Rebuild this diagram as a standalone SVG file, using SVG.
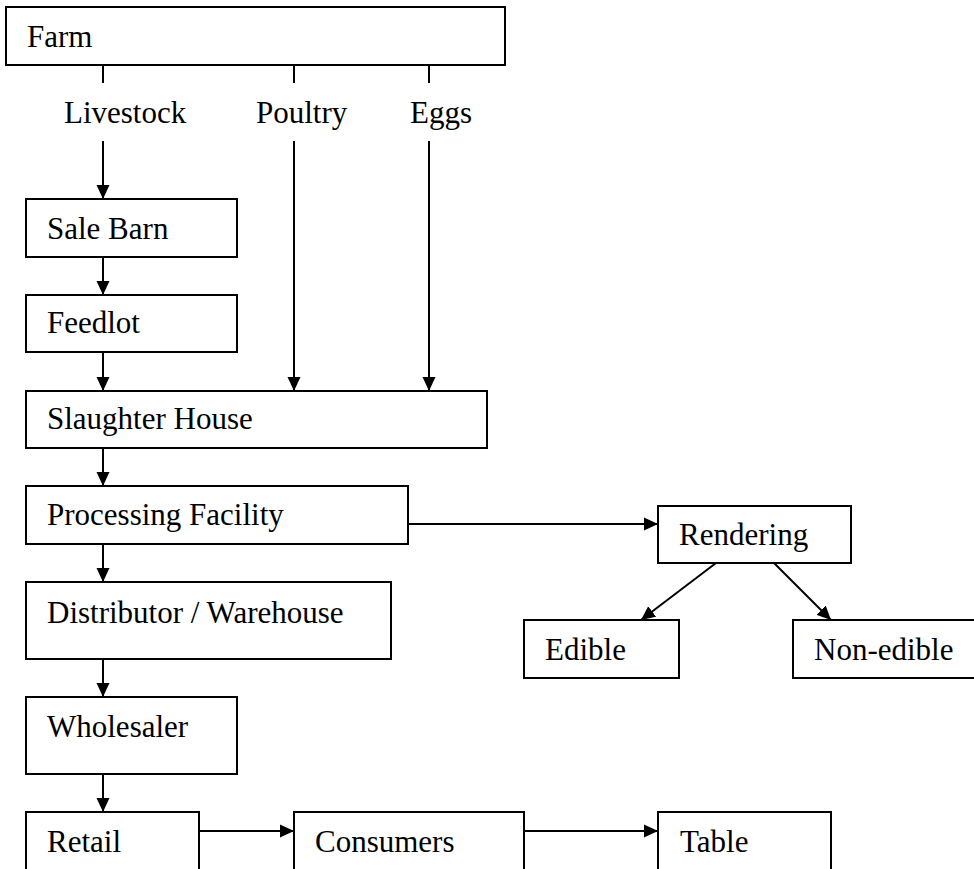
<svg xmlns="http://www.w3.org/2000/svg" width="974" height="869" viewBox="0 0 974 869">
<style>
.box{fill:#fff;stroke:#000;stroke-width:2}
.t{font-family:"Liberation Serif","Times New Roman",serif;font-size:31px;fill:#000}
.c{stroke:#000;stroke-width:2;fill:none}
.a{marker-end:url(#ah)}
</style>
<defs>
<marker id="ah" viewBox="0 0 14 14" refX="14" refY="7" markerWidth="14" markerHeight="14" markerUnits="userSpaceOnUse" orient="auto">
<path d="M0,0.5 L14,7 L0,13.5 Z" fill="#000"/>
</marker>
</defs>
<rect width="974" height="869" fill="#fff"/>
<g id="connectors">
<line class="c" x1="103" y1="65" x2="103" y2="83"/>
<line class="c" x1="294" y1="65" x2="294" y2="83"/>
<line class="c" x1="429" y1="65" x2="429" y2="83"/>
<line class="c a" x1="103" y1="141" x2="103" y2="199"/>
<line class="c a" x1="294" y1="141" x2="294" y2="391"/>
<line class="c a" x1="429" y1="141" x2="429" y2="391"/>
<line class="c a" x1="103" y1="257" x2="103" y2="295"/>
<line class="c a" x1="103" y1="352" x2="103" y2="391"/>
<line class="c a" x1="103" y1="448" x2="103" y2="486"/>
<line class="c a" x1="103" y1="544" x2="103" y2="582"/>
<line class="c a" x1="103" y1="659" x2="103" y2="697"/>
<line class="c a" x1="103" y1="774" x2="103" y2="812"/>
<line class="c a" x1="408" y1="524" x2="658" y2="524"/>
<line class="c a" x1="716" y1="563" x2="641" y2="620"/>
<line class="c a" x1="774" y1="563" x2="831" y2="620"/>
<line class="c a" x1="199" y1="831" x2="294" y2="831"/>
<line class="c a" x1="524" y1="831" x2="658" y2="831"/>
</g>
<g id="labels">
<text class="t" x="64" y="123">Livestock</text>
<text class="t" x="256" y="123">Poultry</text>
<text class="t" x="410" y="123">Eggs</text>
</g>
<g id="farm"><rect class="box" x="6" y="7" width="499" height="58"/><text class="t" x="27" y="47">Farm</text></g>
<g id="salebarn"><rect class="box" x="26" y="199" width="211" height="58"/><text class="t" x="47" y="239">Sale Barn</text></g>
<g id="feedlot"><rect class="box" x="26" y="295" width="211" height="57"/><text class="t" x="47" y="333">Feedlot</text></g>
<g id="slaughter"><rect class="box" x="26" y="391" width="461" height="57"/><text class="t" x="47" y="429">Slaughter House</text></g>
<g id="processing"><rect class="box" x="26" y="486" width="382" height="58"/><text class="t" x="47" y="525">Processing Facility</text></g>
<g id="rendering"><rect class="box" x="658" y="506" width="193" height="57"/><text class="t" x="679" y="545">Rendering</text></g>
<g id="edible"><rect class="box" x="524" y="620" width="155" height="58"/><text class="t" x="545" y="660">Edible</text></g>
<g id="nonedible"><rect class="box" x="793" y="620" width="190" height="58"/><text class="t" x="814" y="660">Non-edible</text></g>
<g id="distributor"><rect class="box" x="26" y="582" width="365" height="77"/><text class="t" x="47" y="623">Distributor / Warehouse</text></g>
<g id="wholesaler"><rect class="box" x="26" y="697" width="211" height="77"/><text class="t" x="47" y="737">Wholesaler</text></g>
<g id="retail"><rect class="box" x="26" y="812" width="173" height="60"/><text class="t" x="47" y="852">Retail</text></g>
<g id="consumers"><rect class="box" x="294" y="812" width="230" height="60"/><text class="t" x="315" y="852">Consumers</text></g>
<g id="table"><rect class="box" x="658" y="812" width="173" height="60"/><text class="t" x="680" y="852">Table</text></g>
</svg>
